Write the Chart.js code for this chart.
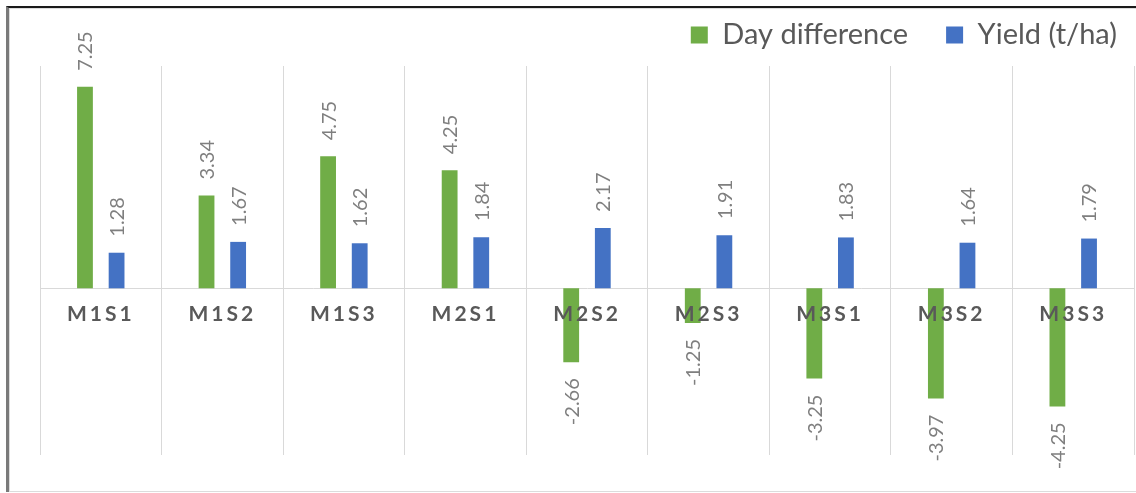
<!DOCTYPE html>
<html>
<head>
<meta charset="utf-8">
<script src="https://cdn.jsdelivr.net/npm/chart.js@4"></script>
<style>
  html, body { margin: 0; padding: 0; background: #fff; }
  #wrap { position: relative; width: 1136px; height: 493px; }
  #frame { position: absolute; left: 6px; top: 6px; right: 0; bottom: 1px;
           border-top: 2px solid #1a1a1a; border-left: 3px solid #7a7a7a; pointer-events: none; }
  #inner { position: absolute; left: 0; top: 0; right: 0; bottom: 0;
           border-top: 1px solid #dcdcdc; border-left: 1px solid #dcdcdc; border-bottom: 1px solid #dcdcdc; }
</style>
</head>
<body>
<div id="wrap">
  <canvas id="diffChart"></canvas>
  <div id="frame"><div id="inner"></div></div>
</div>
<script>
const treatments = ['M1S1', 'M1S2', 'M1S3', 'M2S1', 'M2S2', 'M2S3', 'M3S1', 'M3S2', 'M3S3'];
const dayDifference = [7.25, 3.34, 4.75, 4.25, -2.66, -1.25, -3.25, -3.97, -4.25];
const yieldTha = [1.28, 1.67, 1.62, 1.84, 2.17, 1.91, 1.83, 1.64, 1.79];

const GREEN = '#70AD47';
const BLUE = '#4472C4';
const GRID = '#d9d9d9';

// value labels, turned upright like the excel ones
const barLabels = {
  id: 'barLabels',
  afterDatasetsDraw(chart) {
    const ctx = chart.ctx;
    ctx.save();
    ctx.font = '20px Lato';
    ctx.fillStyle = '#7f7f7f';
    ctx.textBaseline = 'middle';
    chart.data.datasets.forEach((ds, i) => {
      chart.getDatasetMeta(i).data.forEach((bar, j) => {
        const v = ds.data[j];
        ctx.save();
        if (v >= 0) {
          ctx.translate(bar.x, bar.y - 16);
          ctx.textAlign = 'left';
        } else {
          ctx.translate(bar.x, bar.y + 16);
          ctx.textAlign = 'right';
        }
        ctx.rotate(-Math.PI / 2);
        ctx.fillText(v.toFixed(2), 0, 1);
        ctx.restore();
      });
    });
    ctx.restore();
    // the category labels come next (ticks z = 1), spaced out
    ctx.letterSpacing = '3px';
  },
  afterDraw(chart) {
    chart.ctx.letterSpacing = '0px';
  }
};

new Chart(document.getElementById('diffChart'), {
  type: 'bar',
  data: {
    labels: treatments,
    datasets: [
      { label: 'Day difference', data: dayDifference, backgroundColor: GREEN },
      { label: 'Yield (t/ha)', data: yieldTha, backgroundColor: BLUE }
    ]
  },
  options: {
    responsive: true,
    maintainAspectRatio: false,
    animation: false,
    categoryPercentage: 0.52,
    barPercentage: 0.5,
    layout: { padding: { left: 40, right: -19, top: -17.5, bottom: 38 } },
    plugins: {
      legend: {
        position: 'top',
        align: 'end',
        labels: {
          font: { family: 'Lato', size: 29 },
          color: '#595959',
          boxWidth: 17,
          boxHeight: 17,
          padding: 38
        }
      },
      tooltip: { enabled: false }
    },
    scales: {
      x: {
        position: { y: 0 },
        grid: { color: GRID, offset: true, drawTicks: false },
        border: { color: GRID },
        ticks: {
          z: 1,
          padding: 13,
          color: '#595959',
          font: { family: 'Lato', size: 21, weight: 'bold' }
        }
      },
      y: {
        display: false,
        min: -6,
        max: 8
      },
      xTop: {
        position: 'top',
        grid: { display: false },
        border: { display: false },
        ticks: { display: false },
        afterFit(s) { s.height = 6.5; }
      },
      yRight: {
        position: 'right',
        grid: { display: false },
        border: { display: false },
        ticks: { display: false },
        afterFit(s) { s.width = 21; }
      }
    }
  },
  plugins: [barLabels]
});
</script>
</body>
</html>
